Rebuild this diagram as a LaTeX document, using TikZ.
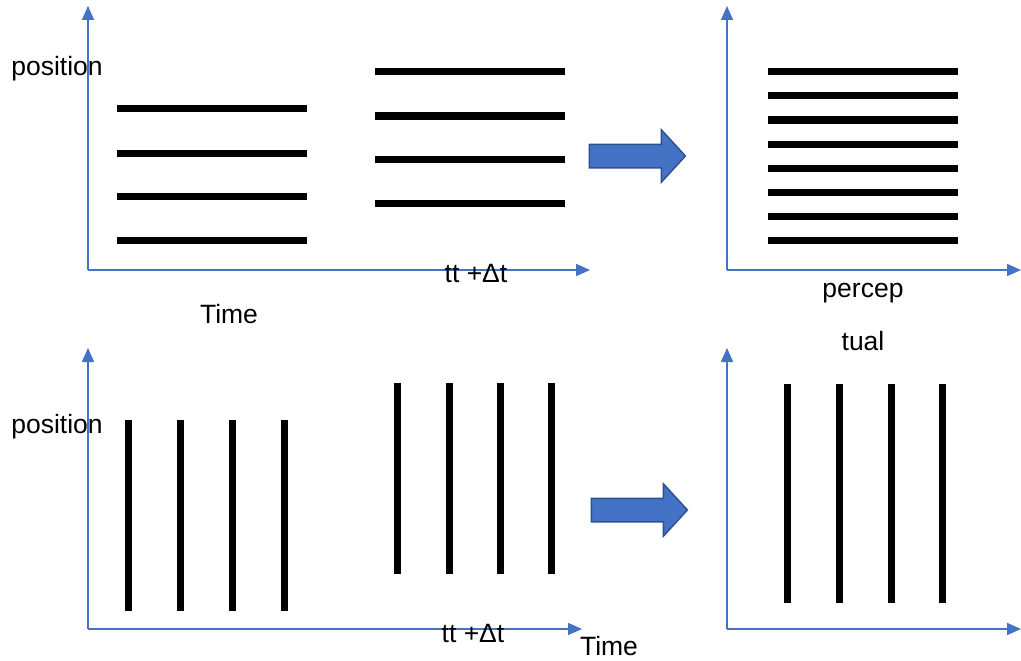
\documentclass[tikz,border=0pt]{standalone}
\usepackage{fontspec}
\setmainfont{Liberation Sans}
\usetikzlibrary{arrows.meta, shapes.arrows}
\definecolor{axisblue}{HTML}{4472C4}
\definecolor{arrowedge}{HTML}{2F528F}

\begin{document}
\begin{tikzpicture}[x=1pt,y=-1pt,font=\fontsize{26.5}{30}\selectfont,
  axis/.style={axisblue,line width=1.5pt,-{Triangle[length=14pt,width=12pt]}},
  stripe/.style={line width=7pt},
  bigarrow/.style={single arrow,draw=arrowedge,fill=axisblue,line width=1.5pt,
    inner sep=11pt,minimum height=96pt,single arrow head extend=14.5pt,
    single arrow tip angle=95}]

\path[use as bounding box] (0,0) rectangle (1021,661);

% --- Assi (origini e punte)
\coordinate (oA) at (88,270);  \coordinate (yA) at (88,6);   \coordinate (xA) at (590,270);
\coordinate (oB) at (727,270); \coordinate (yB) at (727,6);  \coordinate (xB) at (1021,270);
\coordinate (oC) at (88,629);  \coordinate (yC) at (88,348); \coordinate (xC) at (582,629);
\coordinate (oD) at (727,629); \coordinate (yD) at (727,348);\coordinate (xD) at (1021,629);

\foreach \p in {A,B,C,D}{
  \draw[axis] (o\p) -- (y\p);
  \draw[axis] (o\p) -- (x\p);
}

% --- Righe orizzontali
\foreach \y in {109,153,196,240}
  \draw[stripe] (117,\y) -- (307,\y);
\foreach \y in {72,116,159,203}
  \draw[stripe] (375,\y) -- (565,\y);
\foreach \y in {72,96,...,240}
  \draw[stripe] (768,\y) -- (958,\y);

% --- Righe verticali
\foreach \x in {128,180,232,284}
  \draw[stripe] (\x,420) -- (\x,611);
\foreach \x in {397,449,500,551}
  \draw[stripe] (\x,383) -- (\x,574);
\foreach \x in {787,839,891,942}
  \draw[stripe] (\x,384) -- (\x,603);

% --- Frecce grandi
\node[bigarrow] (arrTop) at (632,156) {};
\node[bigarrow] (arrBot) at (634,510) {};

% --- Etichette
\node (posTop) at (57,69) {position};
\node (posBot) at (57,427) {position};
\node (timeTop) at (229,314) {Time};
\node (timeBot) at (609,646) {Time};
\node (dtTop) at (476,273) {tt +Δt};
\node (dtBot) at (473,633) {tt +Δt};
\node (percA) at (863,293) {percep};
\node (percB) at (863,341) {tual};

\end{tikzpicture}
\end{document}
